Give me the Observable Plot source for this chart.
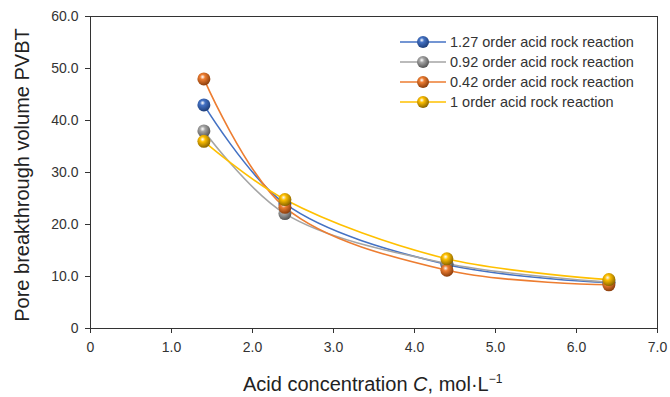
<!DOCTYPE html>
<html>
<head>
<meta charset="utf-8">
<script src="https://cdn.jsdelivr.net/npm/d3@7"></script>
<script src="https://cdn.jsdelivr.net/npm/@observablehq/plot@0.6"></script>
<style>
  body { margin: 0; background: #fff; }
  #wrap { position: relative; width: 670px; height: 397px; font-family: "Liberation Sans", Arial, sans-serif; }
  #legend { position: absolute; left: 400px; top: 32px; font-size: 14.5px; color: #333; }
  #legend .row { display: flex; align-items: center; height: 20px; }
  #legend svg { margin-right: 4px; }
</style>
</head>
<body>
<div id="wrap"></div>
<script>
const conc = [1.4, 2.4, 4.4, 6.4];
const pv127 = [43.0, 24.0, 12.3, 8.8];
const pv092 = [38.0, 22.1, 12.5, 8.9];
const pv042 = [48.0, 23.3, 11.2, 8.4];
const pv1 = [36.0, 24.8, 13.4, 9.4];
const seriesNames = ["1.27 order acid rock reaction", "0.92 order acid rock reaction", "0.42 order acid rock reaction", "1 order acid rock reaction"];
const seriesValues = [pv127, pv092, pv042, pv1];
const colors = ["#4472C4", "#A5A5A5", "#ED7D31", "#FFC000"];
const darks = ["#1f3f7a", "#555555", "#8a3d0c", "#8a6500"];
const xTicks = [0, 1, 2, 3, 4, 5, 6, 7];
const yTicks = [0, 10, 20, 30, 40, 50, 60];

const series = seriesNames.map((name, i) => conc.map((c, j) => ({ name, c, v: seriesValues[i][j] })));

const marks = [
  Plot.frame({ stroke: "#333", strokeWidth: 1 }),
  Plot.axisX({ ticks: xTicks, tickFormat: d => d === 0 ? "0" : d.toFixed(1), tickSize: 5, tickPadding: 9, fontSize: 14, color: "#333", label: null }),
  Plot.axisY({ ticks: yTicks, tickFormat: d => d === 0 ? "0" : d.toFixed(1), tickSize: 5, tickPadding: 7, fontSize: 14, color: "#333", label: null })
];
series.forEach((s, i) => {
  marks.push(Plot.line(s, { x: "c", y: "v", stroke: colors[i], strokeWidth: 1.6, curve: "catmull-rom" }));
});
series.forEach((s, i) => {
  marks.push(Plot.dot(s, { x: "c", y: "v", r: 6.5, fill: `url(#g${i})`, stroke: "none" }));
});

const plot = Plot.plot({
  width: 670,
  height: 397,
  marginLeft: 90,
  marginRight: 13,
  marginTop: 16,
  marginBottom: 69,
  style: { fontFamily: "Liberation Sans, Arial, sans-serif", background: "#fff" },
  x: { domain: [0, 7] },
  y: { domain: [0, 60] },
  marks
});

function addDefs(svg) {
  const ns = "http://www.w3.org/2000/svg";
  const defs = document.createElementNS(ns, "defs");
  colors.forEach((c, i) => {
    const g = document.createElementNS(ns, "radialGradient");
    g.setAttribute("id", `g${i}`);
    g.setAttribute("cx", "40%"); g.setAttribute("cy", "35%"); g.setAttribute("r", "65%");
    [["0%", "#ffffff", 0.9], ["30%", c, 1], ["100%", darks[i], 1]].forEach(([o, col, op]) => {
      const st = document.createElementNS(ns, "stop");
      st.setAttribute("offset", o); st.setAttribute("stop-color", col); st.setAttribute("stop-opacity", op);
      g.appendChild(st);
    });
    defs.appendChild(g);
  });
  svg.insertBefore(defs, svg.firstChild);
}
addDefs(plot);

// axis titles
const ns = "http://www.w3.org/2000/svg";
const yt = document.createElementNS(ns, "text");
yt.setAttribute("transform", "translate(29,175) rotate(-90)");
yt.setAttribute("text-anchor", "middle");
yt.setAttribute("font-size", "20");
yt.setAttribute("fill", "#222");
yt.textContent = "Pore breakthrough volume PVBT";
plot.appendChild(yt);

const xt = document.createElementNS(ns, "text");
xt.setAttribute("x", 243); xt.setAttribute("y", 391);
xt.setAttribute("text-anchor", "start");
xt.setAttribute("font-size", "20");
xt.setAttribute("fill", "#222");
const t1 = document.createElementNS(ns, "tspan"); t1.textContent = "Acid concentration ";
const t2 = document.createElementNS(ns, "tspan"); t2.textContent = "C"; t2.setAttribute("font-style", "italic");
const t3 = document.createElementNS(ns, "tspan"); t3.textContent = ", mol·L";
const t4 = document.createElementNS(ns, "tspan"); t4.textContent = "−1"; t4.setAttribute("font-size", "12"); t4.setAttribute("dy", "-8");
[t1, t2, t3, t4].forEach(t => xt.appendChild(t));
plot.appendChild(xt);

const wrap = document.getElementById("wrap");
wrap.appendChild(plot);

// legend
const legend = document.createElement("div");
legend.id = "legend";
seriesNames.forEach((name, i) => {
  const row = document.createElement("div");
  row.className = "row";
  row.innerHTML = `<svg width="46" height="14"><defs><radialGradient id="lg${i}" cx="40%" cy="35%" r="65%"><stop offset="0%" stop-color="#fff" stop-opacity="0.9"/><stop offset="30%" stop-color="${colors[i]}"/><stop offset="100%" stop-color="${darks[i]}"/></radialGradient></defs><line x1="0" x2="46" y1="7" y2="7" stroke="${colors[i]}" stroke-width="1.6"/><circle cx="23" cy="7" r="6" fill="url(#lg${i})"/></svg><span>${name}</span>`;
  legend.appendChild(row);
});
wrap.appendChild(legend);
</script>
</body>
</html>
